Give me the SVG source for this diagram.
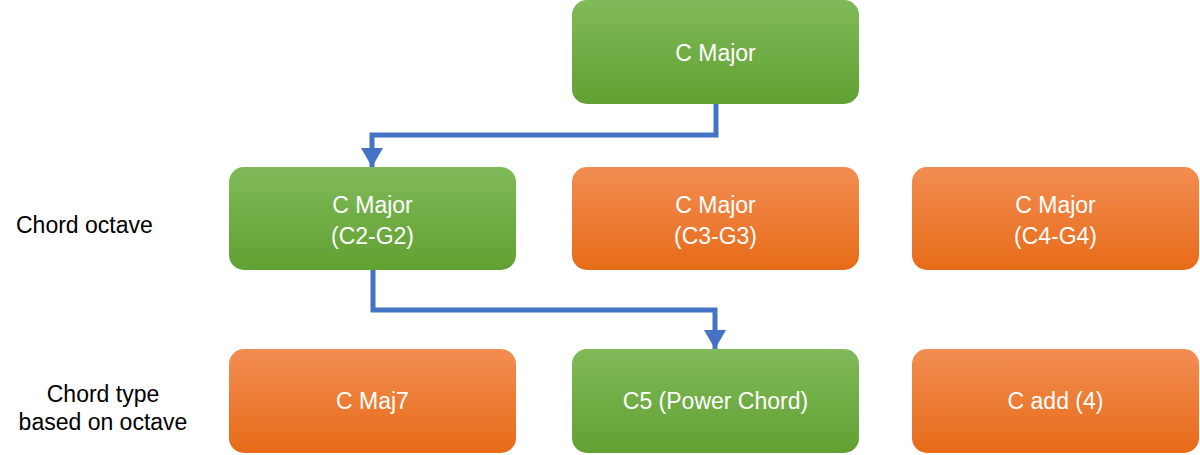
<svg xmlns="http://www.w3.org/2000/svg" width="1200" height="455" viewBox="0 0 1200 455">
<style>
.lbl{font-family:"Liberation Sans",Arial,sans-serif;font-size:23px;fill:#ffffff;text-anchor:middle}
.side{font-family:"Liberation Sans",Arial,sans-serif;font-size:23px;fill:#000000}
.g{fill:url(#gg)}
.o{fill:url(#og)}
.conn{fill:none;stroke:#4472c4;stroke-width:5;marker-end:url(#ah)}
</style>
<defs>
<linearGradient id="gg" x1="0" y1="0" x2="0" y2="1">
<stop offset="0" stop-color="#80ba59"/>
<stop offset="1" stop-color="#61a032"/>
</linearGradient>
<linearGradient id="og" x1="0" y1="0" x2="0" y2="1">
<stop offset="0" stop-color="#f28d52"/>
<stop offset="1" stop-color="#e76b18"/>
</linearGradient>
<marker id="ah" markerUnits="userSpaceOnUse" markerWidth="20" markerHeight="22" refX="19" refY="11" orient="auto">
<path d="M0,0 L19,11 L0,22 Z" fill="#4472c4"/>
</marker>
</defs>
<g id="connectors">
<path class="conn" d="M716,104 V135 H372 V167"/>
<path class="conn" d="M373,270 V310 H715 V349"/>
</g>
<g id="n-top"><rect class="g" x="572" y="0" width="287" height="104" rx="15"/><text class="lbl" x="715.5" y="61">C Major</text></g>
<g id="n-c2"><rect class="g" x="229" y="167" width="287" height="103" rx="15"/><text class="lbl" x="372.5" y="213">C Major</text><text class="lbl" x="372.5" y="244">(C2-G2)</text></g>
<g id="n-c3"><rect class="o" x="572" y="167" width="287" height="103" rx="15"/><text class="lbl" x="715.5" y="213">C Major</text><text class="lbl" x="715.5" y="244">(C3-G3)</text></g>
<g id="n-c4"><rect class="o" x="912" y="167" width="287" height="103" rx="15"/><text class="lbl" x="1055.5" y="213">C Major</text><text class="lbl" x="1055.5" y="244">(C4-G4)</text></g>
<g id="n-maj7"><rect class="o" x="229" y="349" width="287" height="104" rx="15"/><text class="lbl" x="372.5" y="409">C Maj7</text></g>
<g id="n-c5"><rect class="g" x="572" y="349" width="287" height="104" rx="15"/><text class="lbl" x="715.5" y="409">C5 (Power Chord)</text></g>
<g id="n-add4"><rect class="o" x="912" y="349" width="287" height="104" rx="15"/><text class="lbl" x="1055.5" y="409">C add (4)</text></g>
<g id="labels">
<text class="side" x="16" y="233">Chord octave</text>
<text class="side" x="103" y="402" text-anchor="middle">Chord type</text>
<text class="side" x="103" y="430" text-anchor="middle">based on octave</text>
</g>
</svg>
